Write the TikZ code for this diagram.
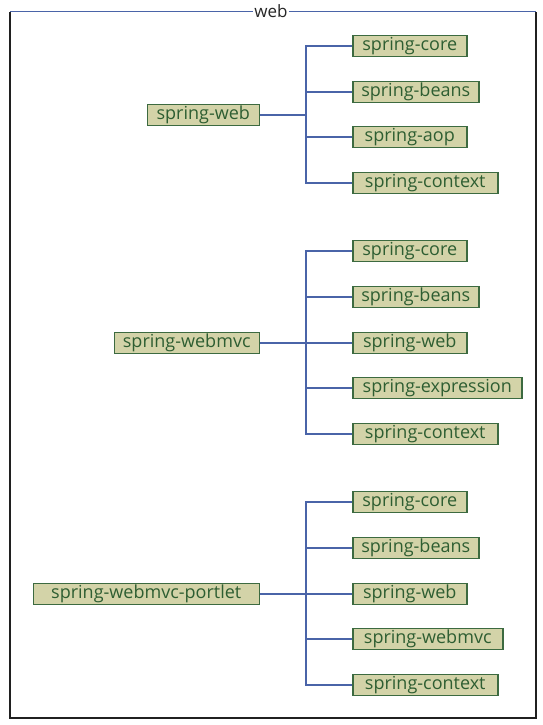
\documentclass[tikz,border=0pt]{standalone}
\usepackage{fontspec}
\setmainfont{Open Sans}
\definecolor{boxfill}{HTML}{D3D3A8}
\definecolor{boxline}{HTML}{3C6A40}
\definecolor{boxtext}{HTML}{2E5E32}
\definecolor{conn}{HTML}{4A64A8}
\definecolor{frameline}{HTML}{202020}
\begin{document}
\begin{tikzpicture}[x=1pt,y=-1pt,
  pkg/.style={draw=boxline,fill=boxfill,text=boxtext,line width=1.5pt,
    minimum height=21pt,inner sep=0pt,font=\fontsize{18}{20}\selectfont},
  parent/.style={pkg,anchor=east},
  child/.style={pkg,anchor=west},
  link/.style={draw=conn,line width=1.1pt}]
\useasboundingbox (0,0) rectangle (542,725);
% frame
\draw[frameline,line width=1.3pt] (10,12) -- (10,718) -- (536,718) -- (536,12);
\node[font=\fontsize{17}{19}\selectfont,text=black!85,inner sep=1pt] (title) at (271,11) {web};
\draw[conn,line width=1pt] (10,12) -- (title.west |- 0,12);
\draw[conn,line width=1pt] (title.east |- 0,12) -- (536,12);
% group 1
\node[parent,minimum width=112pt] (w) at (260,115) {spring-web};
\node[child,minimum width=114pt] (w1) at (352,46) {spring-core};
\node[child,minimum width=126pt] (w2) at (352,92) {spring-beans};
\node[child,minimum width=114pt] (w3) at (352,137) {spring-aop};
\node[child,minimum width=145pt] (w4) at (352,183) {spring-context};
\coordinate (wj) at (306,115);
\draw[link] (w.east) -- (wj);
\foreach \c in {w1,w2,w3,w4}{\draw[link] (wj) |- (\c.west);}
% group 2
\node[parent,minimum width=145pt] (m) at (260,343) {spring-webmvc};
\node[child,minimum width=114pt] (m1) at (352,251) {spring-core};
\node[child,minimum width=126pt] (m2) at (352,297) {spring-beans};
\node[child,minimum width=114pt] (m3) at (352,343) {spring-web};
\node[child,minimum width=169pt] (m4) at (352,388) {spring-expression};
\node[child,minimum width=145pt] (m5) at (352,434) {spring-context};
\coordinate (mj) at (306,343);
\draw[link] (m.east) -- (mj);
\foreach \c in {m1,m2,m3,m4,m5}{\draw[link] (mj) |- (\c.west);}
% group 3
\node[parent,minimum width=226pt] (p) at (260,594) {spring-webmvc-portlet};
\node[child,minimum width=114pt] (p1) at (352,502) {spring-core};
\node[child,minimum width=126pt] (p2) at (352,548) {spring-beans};
\node[child,minimum width=114pt] (p3) at (352,594) {spring-web};
\node[child,minimum width=150pt] (p4) at (352,639) {spring-webmvc};
\node[child,minimum width=145pt] (p5) at (352,685) {spring-context};
\coordinate (pj) at (306,594);
\draw[link] (p.east) -- (pj);
\foreach \c in {p1,p2,p3,p4,p5}{\draw[link] (pj) |- (\c.west);}
\end{tikzpicture}
\end{document}
